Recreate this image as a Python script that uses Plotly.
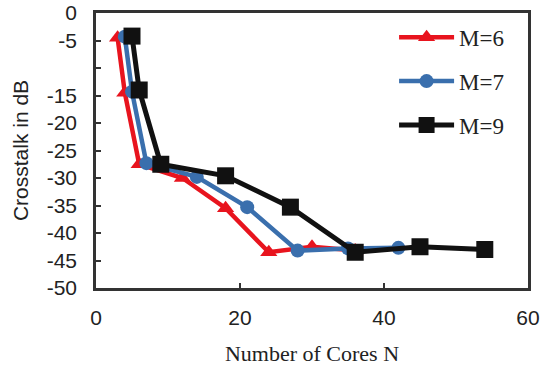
import plotly.graph_objects as go

# Data
n_m6 = [3, 4, 6, 12, 18, 24, 30, 36]
xt_m6 = [-4.5, -14.5, -27.5, -30.0, -35.5, -43.5, -42.5, -43.2]

n_m7 = [4, 5, 7, 14, 21, 28, 35, 42]
xt_m7 = [-4.3, -14.3, -27.3, -29.8, -35.3, -43.2, -42.8, -42.7]

n_m9 = [5, 6, 9, 18, 27, 36, 45, 54]
xt_m9 = [-4.2, -14.0, -27.5, -29.6, -35.3, -43.5, -42.5, -43.0]

y_tickvals = [0, -5, -10, -15, -20, -25, -30, -35, -40, -45, -50]
y_ticktext = ["0", "-5", "", "-15", "-20", "-25", "-30", "-35", "-40", "-45", "-50"]
x_tickvals = [0, 20, 40, 60]

fig = go.Figure()
fig.add_trace(go.Scatter(x=n_m6, y=xt_m6, name="M=6", mode="lines+markers",
                         legendgroup="a",
                         line=dict(color="#e8141e", width=4.5),
                         marker=dict(symbol="triangle-up", size=15, color="#e8141e")))
fig.add_trace(go.Scatter(x=n_m7, y=xt_m7, name="M=7", mode="lines+markers",
                         legendgroup="b",
                         line=dict(color="#3a6fad", width=4.5),
                         marker=dict(symbol="circle", size=14, color="#3a6fad")))
fig.add_trace(go.Scatter(x=n_m9, y=xt_m9, name="M=9", mode="lines+markers",
                         legendgroup="c",
                         line=dict(color="#111111", width=5),
                         marker=dict(symbol="square", size=17, color="#111111")))

fig.update_layout(
    width=541, height=369,
    margin=dict(l=96, r=13, t=13, b=81, autoexpand=False),
    paper_bgcolor="white", plot_bgcolor="white",
    showlegend=True,
    legend=dict(x=0.69, y=0.99, xanchor="left", yanchor="top",
                font=dict(family="Liberation Serif", size=23, color="#222"),
                itemwidth=55, tracegroupgap=11, bgcolor="rgba(0,0,0,0)"),
    xaxis=dict(range=[0, 60], tickvals=x_tickvals, ticks="inside", ticklen=5,
               tickwidth=2, tickcolor="#333", showgrid=False, zeroline=False,
               showline=True, linecolor="#333", linewidth=2.5, mirror=True,
               automargin=False, ticklabeloverflow="allow",
               tickfont=dict(family="Liberation Sans", size=21, color="#222"),
               ticklabelstandoff=9,
               title=dict(text="Number of Cores N", standoff=18,
                          font=dict(family="Liberation Serif", size=22, color="#222"))),
    yaxis=dict(range=[-50, 0], tickvals=y_tickvals, ticktext=y_ticktext,
               ticks="inside", ticklen=5, tickwidth=2, tickcolor="#333",
               showgrid=False, zeroline=False,
               showline=True, linecolor="#333", linewidth=2.5, mirror=True,
               automargin=False, ticklabeloverflow="allow",
               tickfont=dict(family="Liberation Sans", size=21, color="#222"),
               ticklabelstandoff=12,
               title=dict(text="Crosstalk in dB", standoff=13,
                          font=dict(family="Liberation Sans", size=21, color="#222"))),
)

# Remove the default page margin so the figure sits at the window's corner
fig.write_html("out.html", config={"displayModeBar": False},
               post_script="document.body.style.margin='0';")
